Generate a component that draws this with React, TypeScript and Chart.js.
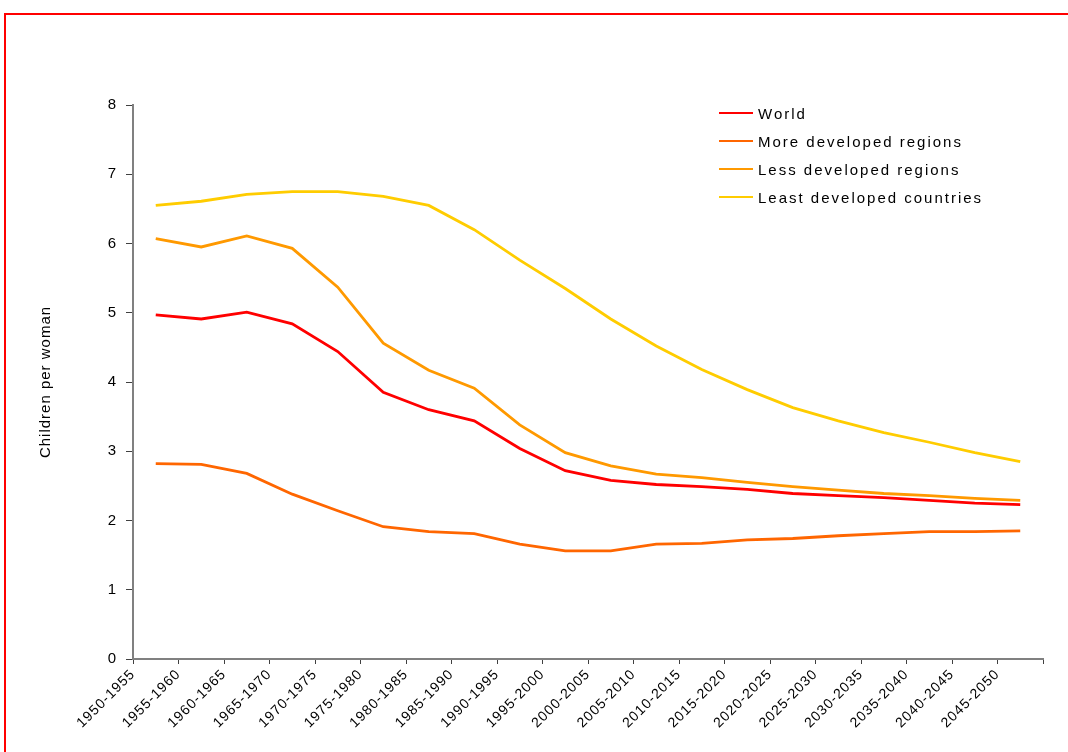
import React, { useEffect, useRef } from 'react';
import { Chart, registerables } from 'chart.js';

Chart.register(...registerables);

const periods = [
  '1950-1955', '1955-1960', '1960-1965', '1965-1970', '1970-1975',
  '1975-1980', '1980-1985', '1985-1990', '1990-1995', '1995-2000',
  '2000-2005', '2005-2010', '2010-2015', '2015-2020', '2020-2025',
  '2025-2030', '2030-2035', '2035-2040', '2040-2045', '2045-2050',
];

const world = [4.97, 4.91, 5.01, 4.84, 4.44, 3.85, 3.6, 3.44, 3.04, 2.72, 2.58, 2.52, 2.49, 2.45, 2.39, 2.36, 2.33, 2.29, 2.25, 2.23];
const moreDeveloped = [2.82, 2.81, 2.68, 2.38, 2.14, 1.91, 1.84, 1.81, 1.66, 1.56, 1.56, 1.66, 1.67, 1.72, 1.74, 1.78, 1.81, 1.84, 1.84, 1.85];
const lessDeveloped = [6.07, 5.95, 6.11, 5.93, 5.37, 4.56, 4.17, 3.91, 3.38, 2.98, 2.79, 2.67, 2.62, 2.55, 2.49, 2.44, 2.39, 2.36, 2.32, 2.29];
const leastDeveloped = [6.55, 6.61, 6.71, 6.75, 6.75, 6.68, 6.55, 6.2, 5.76, 5.35, 4.91, 4.52, 4.18, 3.89, 3.63, 3.44, 3.27, 3.13, 2.98, 2.85];

const seriesNames = ['World', 'More developed regions', 'Less developed regions', 'Least developed countries'];
const seriesColors = ['#FF0000', '#FF6600', '#FF9900', '#FFCC00'];
const seriesValues = [world, moreDeveloped, lessDeveloped, leastDeveloped];

const yTitle = 'Children per woman';
const yMin = 0;
const yMax = 8;
const yStep = 1;

const FONT = '"Liberation Sans", Arial, sans-serif';

const spacingPlugin = {
  id: 'letterSpacing',
  beforeDraw(chart: any) {
    (chart.ctx as any).letterSpacing = '1px';
  },
};

export default function App() {
  const canvasRef = useRef<HTMLCanvasElement | null>(null);

  useEffect(() => {
    const canvas = canvasRef.current;
    if (!canvas) return;
    const chart = new Chart(canvas, {
      type: 'line',
      data: {
        labels: periods,
        datasets: seriesNames.map((name, i) => ({
          label: name,
          data: seriesValues[i],
          borderColor: seriesColors[i],
          backgroundColor: seriesColors[i],
          borderWidth: 2.8,
          pointRadius: 0,
          tension: 0,
          fill: false,
        })),
      },
      options: {
        responsive: false,
        animation: false,
        layout: { padding: { left: 28, top: 105, right: 25, bottom: 0 } },
        plugins: {
          legend: { display: false },
          tooltip: { enabled: false },
        },
        scales: {
          x: {
            type: 'category',
            display: false,
            offset: true,
          },
          x2: {
            type: 'category',
            labels: [...periods, ''],
            position: 'bottom',
            offset: false,
            grid: {
              drawOnChartArea: false,
              tickLength: 5,
              tickColor: '#404040',
              offset: false,
            },
            border: { color: '#808080', width: 2 },
            ticks: {
              autoSkip: false,
              maxRotation: 45,
              minRotation: 45,
              padding: 2,
              color: '#000',
              font: { family: FONT, size: 14 },
            },
            afterFit: (s: any) => {
              s.height = 93;
            },
          },
          y: {
            min: yMin,
            max: yMax,
            grid: {
              drawOnChartArea: false,
              tickLength: 7,
              tickColor: '#404040',
            },
            border: { color: '#808080', width: 2 },
            ticks: {
              stepSize: yStep,
              padding: 9,
              color: '#000',
              font: { family: FONT, size: 15 },
            },
            title: {
              display: true,
              text: yTitle,
              color: '#000',
              font: { family: FONT, size: 15 },
              padding: { top: 9, bottom: 0 },
            },
            afterFit: (s: any) => {
              s.width = 105;
            },
          },
        },
      } as any,
      plugins: [spacingPlugin],
    });
    return () => chart.destroy();
  }, []);

  return (
    <div style={{ position: 'absolute', left: 0, top: 0, width: 1068, height: 752, overflow: 'hidden', background: '#fff' }}>
      <div
        style={{
          position: 'absolute',
          left: 4,
          top: 13,
          width: 1200,
          height: 1000,
          border: '2px solid #FF0000',
        }}
      />
      <canvas ref={canvasRef} width={1068} height={752} style={{ position: 'absolute', left: 0, top: 0 }} />
      <div style={{ position: 'absolute', left: 719, top: 99, fontFamily: FONT, fontSize: 15, color: '#000', letterSpacing: '2px' }}>
        {seriesNames.map((name, i) => (
          <div key={name} style={{ display: 'flex', alignItems: 'center', height: 28, whiteSpace: 'nowrap' }}>
            <div style={{ width: 34, height: 2.5, background: seriesColors[i], marginRight: 5 }} />
            <span>{name}</span>
          </div>
        ))}
      </div>
    </div>
  );
}
